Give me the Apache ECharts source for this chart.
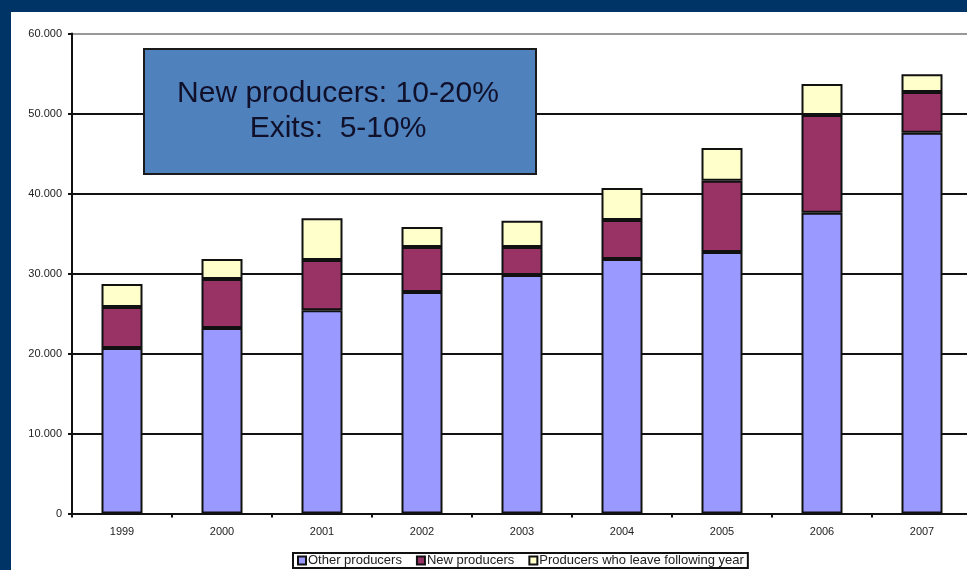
<!DOCTYPE html>
<html>
<head>
<meta charset="utf-8">
<script src="https://cdn.jsdelivr.net/npm/echarts@6/dist/echarts.min.js"></script>
<style>
html,body{margin:0;padding:0;background:#003366;width:967px;height:570px;overflow:hidden;position:relative;}
#chart{position:absolute;left:11px;top:12px;width:980px;height:558px;background:#ffffff;}
</style>
</head>
<body>
<div id="chart"></div>
<script>
const years = ['1999','2000','2001','2002','2003','2004','2005','2006','2007'];
const otherProducers = [20700, 23200, 25400, 27700, 29800, 31800, 32700, 37600, 47600];
const newProducers = [5100, 6100, 6300, 5600, 3500, 4900, 8900, 12200, 5100];
const leavingProducers = [2900, 2500, 5200, 2500, 3300, 4000, 4100, 3900, 2200];
const seriesNames = ['Other producers', 'New producers', 'Producers who leave following year'];
const noteLines = ['New producers: 10-20%', 'Exits:  5-10%'];

const chart = echarts.init(document.getElementById('chart'));
const barStyle = (c) => ({ color: c, borderColor: '#111', borderWidth: 2 });
chart.setOption({
  animation: false,
  textStyle: { fontFamily: 'Liberation Sans, Arial, sans-serif' },
  grid: { left: 61, top: 21.5, width: 900, height: 480, containLabel: false },
  legend: {
    left: 282, top: 541,
    data: seriesNames,
    icon: 'rect', itemWidth: 8, itemHeight: 8, itemGap: 14,
    padding: [1, 4, 1, 4],
    borderColor: '#111', borderWidth: 2,
    textStyle: { fontSize: 13, color: '#222', padding: [0, 0, 0, -3] }
  },
  xAxis: {
    type: 'category', data: years,
    axisLine: { lineStyle: { color: '#111', width: 2 } },
    axisTick: { show: true, length: 4, lineStyle: { color: '#111', width: 2 } },
    axisLabel: { fontSize: 11, color: '#222', margin: 13 }
  },
  yAxis: {
    type: 'value', min: 0, max: 60000, interval: 10000,
    axisLine: { show: true, lineStyle: { color: '#111', width: 2 } },
    axisTick: { show: true, length: 4, lineStyle: { color: '#111', width: 2 } },
    axisLabel: { fontSize: 11, color: '#222', margin: 10,
      formatter: v => v === 0 ? '0' : (v/1000).toFixed(0) + '.000' },
    splitLine: { show: true, lineStyle: { color: ['#111','#111','#111','#111','#111','#111','#999'], width: 2 } }
  },
  series: [
    { name: seriesNames[0], type: 'bar', stack: 'p', barWidth: 41, data: otherProducers, itemStyle: barStyle('#9999FF') },
    { name: seriesNames[1], type: 'bar', stack: 'p', barWidth: 41, data: newProducers, itemStyle: barStyle('#993366') },
    { name: seriesNames[2], type: 'bar', stack: 'p', barWidth: 41, data: leavingProducers, itemStyle: barStyle('#FFFFCC') }
  ],
  graphic: [
    { type: 'rect', left: 132, top: 36, z: 100,
      shape: { width: 392, height: 125 },
      style: { fill: '#4F81BD', stroke: '#1a1a1a', lineWidth: 2 } },
    { type: 'text', z: 101, position: [327, 82],
      style: { text: noteLines[0], x: 0, y: 0, textAlign: 'center', textVerticalAlign: 'middle',
        font: '30px "Liberation Sans", Arial, sans-serif', fill: '#10102a' } },
    { type: 'text', z: 101, position: [327, 117],
      style: { text: noteLines[1], x: 0, y: 0, textAlign: 'center', textVerticalAlign: 'middle',
        font: '30px "Liberation Sans", Arial, sans-serif', fill: '#10102a' } }
  ]
});
</script>
</body>
</html>
